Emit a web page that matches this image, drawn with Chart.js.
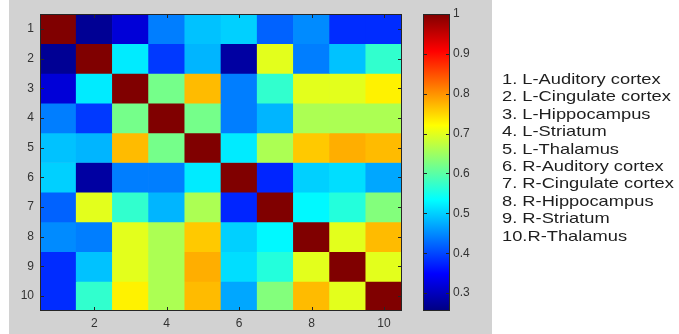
<!DOCTYPE html>
<html>
<head>
<meta charset="utf-8">
<script src="https://cdn.jsdelivr.net/npm/chart.js@4.4.1/dist/chart.umd.min.js"></script>
<style>
  body { margin: 0; background: #fff; }
  #wrap { position: relative; width: 679px; height: 334px; overflow: hidden; }
  #panel { position: absolute; left: 9px; top: 0; width: 483px; height: 334px; background: #d2d2d2; }
  canvas { position: absolute; left: 0; top: 0; }
  #names { position: absolute; left: 502px; top: 70px; margin: 0; padding: 0; list-style: none;
    font: 15px "Liberation Sans", Arial, sans-serif; line-height: 17.4px; color: #1e1e1e;
    transform: scaleX(1.22); transform-origin: left top; white-space: nowrap; }
</style>
</head>
<body>
<div id="wrap">
  <div id="panel"></div>
  <canvas id="heat" width="679" height="334"></canvas>
  <canvas id="cbar" width="679" height="334"></canvas>
  <ul id="names"></ul>
</div>
<script>
const regions = ['1', '2', '3', '4', '5', '6', '7', '8', '9', '10']
const regionNames = ['L-Auditory cortex', 'L-Cingulate cortex', 'L-Hippocampus', 'L-Striatum', 'L-Thalamus',
  'R-Auditory cortex', 'R-Cingulate cortex', 'R-Hippocampus', 'R-Striatum', 'R-Thalamus']

// correlation matrix, row by row (top to bottom)
const row1  = [1.00, 0.27, 0.32, 0.44, 0.49, 0.50, 0.42, 0.45, 0.38, 0.38]
const row2  = [0.27, 1.00, 0.52, 0.39, 0.48, 0.28, 0.70, 0.44, 0.49, 0.57]
const row3  = [0.32, 0.52, 1.00, 0.62, 0.77, 0.44, 0.57, 0.70, 0.70, 0.73]
const row4  = [0.44, 0.39, 0.62, 1.00, 0.62, 0.44, 0.48, 0.66, 0.66, 0.66]
const row5  = [0.49, 0.48, 0.77, 0.62, 1.00, 0.52, 0.66, 0.76, 0.78, 0.77]
const row6  = [0.50, 0.28, 0.44, 0.44, 0.52, 1.00, 0.375, 0.50, 0.51, 0.47]
const row7  = [0.42, 0.70, 0.57, 0.48, 0.66, 0.375, 1.00, 0.53, 0.56, 0.63]
const row8  = [0.45, 0.44, 0.70, 0.66, 0.76, 0.50, 0.53, 1.00, 0.70, 0.77]
const row9  = [0.38, 0.49, 0.70, 0.66, 0.78, 0.51, 0.56, 0.70, 1.00, 0.70]
const row10 = [0.38, 0.57, 0.73, 0.66, 0.77, 0.47, 0.63, 0.77, 0.70, 1.00]
const corr = [row1, row2, row3, row4, row5, row6, row7, row8, row9, row10]

const colorTicks = [0.3, 0.4, 0.5, 0.6, 0.7, 0.8, 0.9, 1]
const cMin = 0.255
const cMax = 1

const names = document.querySelector("#names")
regionNames.forEach((n, i) => {
  const li = document.createElement("li")
  li.textContent = (i < 9 ? (i + 1) + ". " : (i + 1) + ".") + n
  names.appendChild(li)
})

function clamp(v){ return Math.max(0, Math.min(1, v)) }

function jet(v){
  const t = clamp((v - cMin) / (cMax - cMin))
  const r = clamp(1.5 - Math.abs(4*t - 3))
  const g = clamp(1.5 - Math.abs(4*t - 2))
  const b = clamp(1.5 - Math.abs(4*t - 1))
  return `rgb(${Math.round(r*255)},${Math.round(g*255)},${Math.round(b*255)})`
}

const font = { family: '"Liberation Sans", Arial, sans-serif', size: 12 }
const edge = '#262626'

// axes box with inward tick marks (matlab style)
const boxPlugin = {
  id: 'box',
  afterDraw(chart, args, opts){
    const {ctx, chartArea: a} = chart
    ctx.save()
    ctx.strokeStyle = edge
    ctx.lineWidth = 1
    ctx.strokeRect(Math.round(a.left) + 0.5, Math.round(a.top) + 0.5,
      Math.round(a.right - a.left) - 1, Math.round(a.bottom - a.top) - 1)
    ctx.beginPath()
    ;(opts.x || []).forEach((v) => {
      const px = Math.round(chart.scales.x.getPixelForValue(v)) + 0.5
      ctx.moveTo(px, a.top); ctx.lineTo(px, a.top + 4)
      ctx.moveTo(px, a.bottom); ctx.lineTo(px, a.bottom - 4)
    })
    ;(opts.y || []).forEach((v) => {
      const py = Math.round(chart.scales.y.getPixelForValue(v)) + 0.5
      ctx.moveTo(a.left, py); ctx.lineTo(a.left + 4, py)
      ctx.moveTo(a.right, py); ctx.lineTo(a.right - 4, py)
    })
    ctx.stroke()
    ctx.restore()
  }
}

const heatSets = corr.map((row, r) => ({
  data: row.map(() => [r + 0.5, r + 1.5]),
  backgroundColor: row.map((v) => jet(v)),
  borderWidth: 0,
  barPercentage: 1,
  categoryPercentage: 1,
  grouped: false,
}))

const heat = new Chart(document.querySelector("#heat"), {
  type: 'bar',
  plugins: [boxPlugin],
  data: { labels: regions, datasets: heatSets },
  options: {
    responsive: false,
    animation: false,
    events: [],
    layout: { padding: { left: 0, right: 277, top: 14, bottom: 0 } },
    scales: {
      x: {
        grid: { display: false, drawTicks: false },
        border: { display: false },
        ticks: {
          font: font, color: '#333', padding: 5, maxRotation: 0, autoSkip: false,
          callback: (v, i) => (i % 2 == 1 ? regions[i] : ''),
        },
        afterFit: (s) => { s.height = 23 },
      },
      y: {
        reverse: true,
        min: 0.5,
        max: 10.5,
        grid: { display: false, drawTicks: false },
        border: { display: false },
        afterBuildTicks: (s) => { s.ticks = regions.map((l, i) => ({ value: i + 1 })) },
        ticks: { font: font, color: '#333', padding: 6, callback: (v) => regions[v - 1] },
        afterFit: (s) => { s.width = 40 },
      },
    },
    plugins: {
      legend: { display: false },
      tooltip: { enabled: false },
      box: { x: [1, 3, 5, 7, 9], y: regions.map((l, i) => i + 1) },
    },
  },
})

const cbar = new Chart(document.querySelector("#cbar"), {
  type: 'bar',
  plugins: [boxPlugin],
  data: {
    labels: [''],
    datasets: [{
      data: [[cMin, cMax]],
      borderWidth: 0,
      barPercentage: 1,
      categoryPercentage: 1,
      backgroundColor: (c) => {
        const a = c.chart.chartArea
        if(!a) return '#000'
        const g = c.chart.ctx.createLinearGradient(0, a.bottom, 0, a.top)
        ;[0, 0.125, 0.375, 0.625, 0.875, 1].forEach((t) => g.addColorStop(t, jet(cMin + t*(cMax - cMin))))
        return g
      },
    }]
  },
  options: {
    responsive: false,
    animation: false,
    events: [],
    layout: { padding: { left: 423, right: 199, top: 14, bottom: 23 } },
    scales: {
      x: { display: false },
      y: {
        position: 'right',
        min: cMin,
        max: cMax,
        grid: { display: false, drawTicks: false },
        border: { display: false },
        afterBuildTicks: (s) => { s.ticks = colorTicks.map((v) => ({ value: v })) },
        ticks: { font: font, color: '#333', padding: 3, callback: (v) => String(Math.round(v*10)/10) },
        afterFit: (s) => { s.width = 30 },
      },
    },
    plugins: {
      legend: { display: false },
      tooltip: { enabled: false },
      box: { y: colorTicks.slice(0, -1) },
    },
  },
})
</script>
</body>
</html>
